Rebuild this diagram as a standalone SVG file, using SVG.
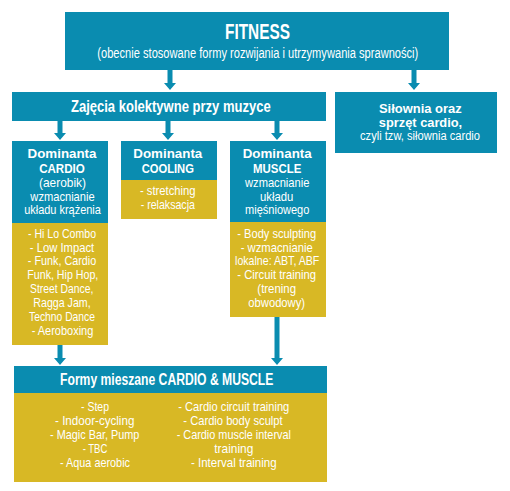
<svg xmlns="http://www.w3.org/2000/svg" width="510" height="491" viewBox="0 0 510 491">
<style>
.b{fill:#0a8cb0}
.g{fill:#d8b825}
text{fill:#fff;font-family:"Liberation Sans Narrow","Liberation Sans",Arial,sans-serif;text-anchor:middle}
.h{font-weight:bold;font-size:13.4px}
.r{font-size:12.2px}
.arr{fill:#0a8cb0}
</style>
<rect width="510" height="491" fill="#fff"/>
<g id="connectors">
<path class="arr" d="M167.5,70H172.5V83H176L170,90L164,83H167.5Z"/>
<path class="arr" d="M411.5,70H416.5V83H420L414,90L408,83H411.5Z"/>
<path class="arr" d="M57.5,121H62.5V133H66L60,140L54,133H57.5Z"/>
<path class="arr" d="M165.5,121H170.5V133H174L168,140L162,133H165.5Z"/>
<path class="arr" d="M274.5,121H279.5V133H283L277,140L271,133H274.5Z"/>
<path class="arr" d="M57.5,345H62.5V358H66L60,365L54,358H57.5Z"/>
<path class="arr" d="M274.5,317H279.5V358H283L277,365L271,358H274.5Z"/>
</g>
<g id="fitness">
<rect class="b" x="65" y="12" width="384" height="58"/>
<text x="257.5" y="39" font-weight="bold" font-size="22" textLength="65" lengthAdjust="spacingAndGlyphs">FITNESS</text>
<text x="257.8" y="57.5" font-size="14" textLength="321" lengthAdjust="spacingAndGlyphs">(obecnie stosowane formy rozwijania i utrzymywania sprawności)</text>
</g>
<g id="zajecia">
<rect class="b" x="12" y="92" width="314" height="29"/>
<text x="170.8" y="111.5" font-weight="bold" font-size="16" textLength="199.7" lengthAdjust="spacingAndGlyphs">Zajęcia kolektywne przy muzyce</text>
</g>
<g id="silownia">
<rect class="b" x="335" y="92" width="162" height="61"/>
<text x="420.3" y="113" font-weight="bold" font-size="12" textLength="82.7" lengthAdjust="spacingAndGlyphs">Siłownia oraz</text>
<text x="420.5" y="126.5" font-weight="bold" font-size="12" textLength="83.3" lengthAdjust="spacingAndGlyphs">sprzęt cardio,</text>
<text x="420" y="140.3" font-size="12" textLength="120" lengthAdjust="spacingAndGlyphs">czyli tzw, siłownia cardio</text>
</g>
<g id="cardio">
<rect class="b" x="12" y="141" width="96" height="82"/>
<rect class="g" x="12" y="223" width="96" height="122"/>
<text class="h" x="62" y="158" textLength="69" lengthAdjust="spacingAndGlyphs">Dominanta</text>
<text class="h" x="62" y="173" textLength="45.7" lengthAdjust="spacingAndGlyphs">CARDIO</text>
<text class="r" x="62.5" y="187" textLength="47" lengthAdjust="spacingAndGlyphs">(aerobik)</text>
<text class="r" x="62.5" y="200.7" textLength="64.3" lengthAdjust="spacingAndGlyphs">wzmacnianie</text>
<text class="r" x="62.5" y="214.4" textLength="76.7" lengthAdjust="spacingAndGlyphs">układu krążenia</text>
<text class="r" x="62" y="237.6" textLength="68" lengthAdjust="spacingAndGlyphs">- Hi Lo Combo</text>
<text class="r" x="62" y="251.5" textLength="64.3" lengthAdjust="spacingAndGlyphs">- Low Impact</text>
<text class="r" x="62" y="265.4" textLength="68.3" lengthAdjust="spacingAndGlyphs">- Funk, Cardio</text>
<text class="r" x="62.8" y="279.3" textLength="71" lengthAdjust="spacingAndGlyphs">Funk, Hip Hop,</text>
<text class="r" x="61.7" y="293.2" textLength="63.3" lengthAdjust="spacingAndGlyphs">Street Dance,</text>
<text class="r" x="62" y="307.1" textLength="57.3" lengthAdjust="spacingAndGlyphs">Ragga Jam,</text>
<text class="r" x="62" y="321" textLength="66" lengthAdjust="spacingAndGlyphs">Techno Dance</text>
<text class="r" x="62.5" y="334.9" textLength="61.7" lengthAdjust="spacingAndGlyphs">- Aeroboxing</text>
</g>
<g id="cooling">
<rect class="b" x="121" y="141" width="96" height="39"/>
<rect class="g" x="121" y="180" width="96" height="39"/>
<text class="h" x="167.8" y="158" textLength="69" lengthAdjust="spacingAndGlyphs">Dominanta</text>
<text class="h" x="167.8" y="173" textLength="52.3" lengthAdjust="spacingAndGlyphs">COOLING</text>
<text class="r" x="167.8" y="195" textLength="55.7" lengthAdjust="spacingAndGlyphs">- stretching</text>
<text class="r" x="167.8" y="208.8" textLength="54.3" lengthAdjust="spacingAndGlyphs">- relaksacja</text>
</g>
<g id="muscle">
<rect class="b" x="230" y="141" width="96" height="81"/>
<rect class="g" x="230" y="222" width="96" height="95"/>
<text class="h" x="277.2" y="158" textLength="69" lengthAdjust="spacingAndGlyphs">Dominanta</text>
<text class="h" x="277.2" y="173" textLength="48.3" lengthAdjust="spacingAndGlyphs">MUSCLE</text>
<text class="r" x="277.2" y="187" textLength="64.3" lengthAdjust="spacingAndGlyphs">wzmacnianie</text>
<text class="r" x="276.7" y="200.7" textLength="33.3" lengthAdjust="spacingAndGlyphs">układu</text>
<text class="r" x="277.2" y="214.4" textLength="64.3" lengthAdjust="spacingAndGlyphs">mięśniowego</text>
<text class="r" x="276.7" y="237.6" textLength="78.7" lengthAdjust="spacingAndGlyphs">- Body sculpting</text>
<text class="r" x="276.7" y="251.5" textLength="72" lengthAdjust="spacingAndGlyphs">- wzmacnianie</text>
<text class="r" x="277.2" y="265.4" textLength="84.3" lengthAdjust="spacingAndGlyphs">lokalne: ABT, ABF</text>
<text class="r" x="276.7" y="279.3" textLength="78.7" lengthAdjust="spacingAndGlyphs">- Circuit training</text>
<text class="r" x="276.7" y="293.2" textLength="38.7" lengthAdjust="spacingAndGlyphs">(trening</text>
<text class="r" x="276.7" y="307.1" textLength="56.7" lengthAdjust="spacingAndGlyphs">obwodowy)</text>
</g>
<g id="formy">
<rect class="b" x="14" y="366" width="313" height="27"/>
<rect class="g" x="14" y="393" width="313" height="89"/>
<text x="166.7" y="385" font-weight="bold" font-size="16" textLength="213.3" lengthAdjust="spacingAndGlyphs">Formy mieszane CARDIO &amp; MUSCLE</text>
<text class="r" x="95" y="411.2" textLength="28" lengthAdjust="spacingAndGlyphs">- Step</text>
<text class="r" x="94.7" y="425.2" textLength="79.3" lengthAdjust="spacingAndGlyphs">- Indoor-cycling</text>
<text class="r" x="94.7" y="439.2" textLength="89.3" lengthAdjust="spacingAndGlyphs">- Magic Bar, Pump</text>
<text class="r" x="95" y="453.2" textLength="24.7" lengthAdjust="spacingAndGlyphs">- TBC</text>
<text class="r" x="95" y="467.2" textLength="70" lengthAdjust="spacingAndGlyphs">- Aqua aerobic</text>
<text class="r" x="233.8" y="411.2" textLength="111" lengthAdjust="spacingAndGlyphs">- Cardio circuit training</text>
<text class="r" x="233" y="425.2" textLength="99.3" lengthAdjust="spacingAndGlyphs">- Cardio body sculpt</text>
<text class="r" x="233.8" y="439.2" textLength="114.3" lengthAdjust="spacingAndGlyphs">- Cardio muscle interval</text>
<text class="r" x="233.8" y="453.2" textLength="39" lengthAdjust="spacingAndGlyphs">training</text>
<text class="r" x="233.8" y="467.2" textLength="85.7" lengthAdjust="spacingAndGlyphs">- Interval training</text>
</g>
</svg>
